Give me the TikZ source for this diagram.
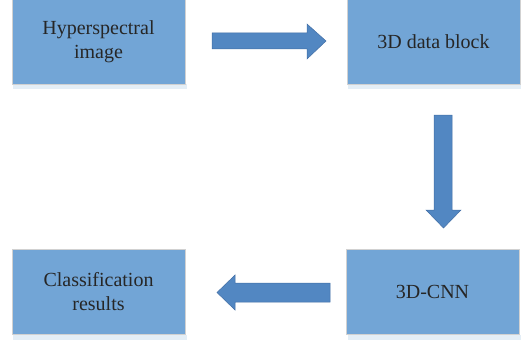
\documentclass[tikz,border=0pt]{standalone}
\usepackage{fontspec}
\setmainfont{Liberation Serif}
\begin{document}
\begin{tikzpicture}[x=1pt,y=-1pt,
  stage/.style={draw=black!18, line width=0.8pt, fill=boxblue, minimum width=173pt,
    minimum height=85pt, align=center, font=\fontsize{20}{24}\selectfont, text=black!85,
    inner sep=0pt},
  blockarrow/.style={fill=arrowblue, draw=arrowedge, line width=0.5pt, line join=miter}]
\definecolor{boxblue}{RGB}{114,165,214}
\definecolor{arrowblue}{RGB}{82,135,194}
\definecolor{arrowedge}{RGB}{66,110,165}
\definecolor{shadowblue}{RGB}{228,238,246}
\useasboundingbox (0,0) rectangle (521,342);
% soft shadows under the boxes
\fill[shadowblue] (13,84) rectangle (187,89);
\fill[shadowblue] (348,84) rectangle (521,89);
\fill[shadowblue] (13,335) rectangle (187,340);
\fill[shadowblue] (348,335) rectangle (521,340);
% stages
\node[stage] (hsi) at (98.5,42) {Hyperspectral\\image};
\node[stage] (blk) at (433.5,42) {3D data block};
\node[stage] (cnn) at (432.5,292) {3D-CNN};
\node[stage] (res) at (98.5,292) {Classification\\results};
% block arrows between stages
\draw[blockarrow] (212,33) -- (307,33) -- (307,24) -- (326,41) -- (307,59) -- (307,49) -- (212,49) -- cycle;
\draw[blockarrow] (434,115) -- (452,115) -- (452,210) -- (461,210) -- (443.5,228) -- (426,210) -- (434,210) -- cycle;
\draw[blockarrow] (330,283) -- (235,283) -- (235,275) -- (217,292.5) -- (235,310) -- (235,302) -- (330,302) -- cycle;
\end{tikzpicture}
\end{document}
